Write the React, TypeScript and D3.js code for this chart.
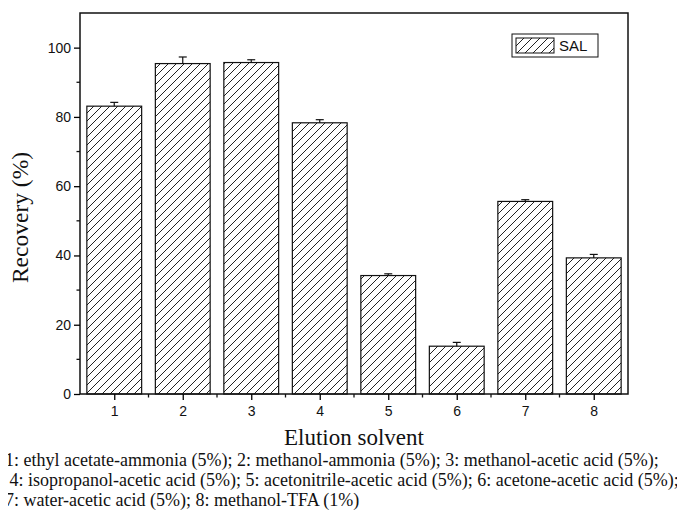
import React, { useEffect, useRef } from 'react';
import * as d3 from 'd3';

const solvents = [1, 2, 3, 4, 5, 6, 7, 8];
const recovery = [83.1, 95.4, 95.7, 78.3, 34.2, 13.8, 55.6, 39.3];
const errors = [1.1, 1.9, 0.8, 0.9, 0.5, 1.1, 0.5, 1.0];
const yTicks = [0, 20, 40, 60, 80, 100];
const yMinorTicks = [10, 30, 50, 70, 90];
const xMinorTicks = [1.5, 2.5, 3.5, 4.5, 5.5, 6.5, 7.5];
const captionLines = [
  '1: ethyl acetate-ammonia (5%); 2: methanol-ammonia (5%); 3: methanol-acetic acid (5%);',
  '\u00a04: isopropanol-acetic acid (5%); 5: acetonitrile-acetic acid (5%); 6: acetone-acetic acid (5%);',
  '7: water-acetic acid (5%); 8: methanol-TFA (1%)',
];

function App() {
  const ref = useRef<SVGSVGElement>(null);

  useEffect(() => {
    if (!ref.current) return;
    const width = 685;
    const height = 515;
    const margin = { top: 13, right: 57, bottom: 121, left: 80 };
    const svg = d3.select(ref.current).attr('width', width).attr('height', height);
    svg.selectAll('*').remove();

    const x = d3.scaleLinear().domain([0.5, 8.5]).range([margin.left, width - margin.right]);
    const y = d3.scaleLinear().domain([0, 110]).range([height - margin.bottom, margin.top]);

    const defs = svg.append('defs');
    const pat = defs.append('pattern')
      .attr('id', 'hatch')
      .attr('patternUnits', 'userSpaceOnUse')
      .attr('width', 8)
      .attr('height', 8);
    pat.append('path')
      .attr('d', 'M-2,2 l4,-4 M0,8 l8,-8 M6,10 l4,-4')
      .attr('stroke', '#222')
      .attr('stroke-width', 1);

    const sans = 'Arial, "Liberation Sans", sans-serif';
    const serif = '"Liberation Serif", "Times New Roman", serif';

    // Bars
    const bw = x(1.4) - x(0.6);
    const data = solvents.map((s, i) => ({ s, v: recovery[i], e: errors[i] }));
    svg.append('g').selectAll('rect')
      .data(data)
      .join('rect')
      .attr('x', d => x(d.s) - bw / 2)
      .attr('y', d => y(d.v))
      .attr('width', bw)
      .attr('height', d => y(0) - y(d.v))
      .attr('fill', 'url(#hatch)')
      .attr('stroke', '#111')
      .attr('stroke-width', 1.2);

    // Error bars (upper only)
    const eb = svg.append('g').attr('stroke', '#111').attr('stroke-width', 1.2);
    data.forEach(d => {
      eb.append('line').attr('x1', x(d.s)).attr('x2', x(d.s)).attr('y1', y(d.v)).attr('y2', y(d.v + d.e));
      eb.append('line').attr('x1', x(d.s) - 4).attr('x2', x(d.s) + 4).attr('y1', y(d.v + d.e)).attr('y2', y(d.v + d.e));
    });

    // Frame
    svg.append('rect')
      .attr('x', margin.left)
      .attr('y', margin.top)
      .attr('width', width - margin.right - margin.left)
      .attr('height', y(0) - margin.top)
      .attr('fill', 'none')
      .attr('stroke', '#111')
      .attr('stroke-width', 1.5);

    // Y axis
    const yAxis = svg.append('g')
      .attr('transform', `translate(${margin.left},0)`)
      .call(d3.axisLeft(y).tickValues(yTicks).tickSize(6).tickPadding(3).tickSizeOuter(0));
    yAxis.select('.domain').remove();
    yAxis.selectAll('line').attr('stroke-width', 1.3);
    yAxis.selectAll('text').attr('font-family', sans).attr('font-size', 14).attr('fill', '#111');
    svg.append('g').selectAll('line')
      .data(yMinorTicks)
      .join('line')
      .attr('x1', margin.left - 3.5).attr('x2', margin.left)
      .attr('y1', d => y(d)).attr('y2', d => y(d))
      .attr('stroke', '#111').attr('stroke-width', 1.3);

    // X axis
    const xAxis = svg.append('g')
      .attr('transform', `translate(0,${y(0)})`)
      .call(d3.axisBottom(x).tickValues(solvents).tickFormat(d3.format('d')).tickSize(6).tickPadding(6).tickSizeOuter(0));
    xAxis.select('.domain').remove();
    xAxis.selectAll('line').attr('stroke-width', 1.3);
    xAxis.selectAll('text').attr('font-family', sans).attr('font-size', 14).attr('fill', '#111');
    svg.append('g').selectAll('line')
      .data(xMinorTicks)
      .join('line')
      .attr('x1', d => x(d)).attr('x2', d => x(d))
      .attr('y1', y(0)).attr('y2', y(0) + 3.5)
      .attr('stroke', '#111').attr('stroke-width', 1.3);

    // Axis titles
    svg.append('text')
      .attr('transform', `translate(28,${(margin.top + y(0)) / 2 + 14}) rotate(-90)`)
      .attr('text-anchor', 'middle')
      .style('font-family', serif)
      .style('font-size', '23.5px')
      .attr('fill', '#111')
      .text('Recovery (%)');
    svg.append('text')
      .attr('x', (margin.left + width - margin.right) / 2)
      .attr('y', 445)
      .attr('text-anchor', 'middle')
      .style('font-family', serif)
      .style('font-size', '23px')
      .attr('fill', '#111')
      .text('Elution solvent');

    // Legend
    const lg = svg.append('g').attr('transform', 'translate(512,34)');
    lg.append('rect').attr('width', 86).attr('height', 23).attr('fill', 'white').attr('stroke', '#111').attr('stroke-width', 1);
    lg.append('rect').attr('x', 4).attr('y', 4).attr('width', 38).attr('height', 15)
      .attr('fill', 'url(#hatch)').attr('stroke', '#111').attr('stroke-width', 1);
    lg.append('text').attr('x', 47).attr('y', 17).attr('font-family', sans).attr('font-size', 15).attr('fill', '#111').text('SAL');

    // Caption
    svg.append('g').selectAll('text')
      .data(captionLines)
      .join('text')
      .attr('x', 5)
      .attr('y', (d, i) => 466 + i * 20)
      .style('font-family', '"Liberation Serif"')
      .style('font-size', '18px')
      .attr('fill', '#111')
      .text(d => d);
  }, []);

  return (
    <div style={{ margin: -8 }}>
      <svg ref={ref}></svg>
    </div>
  );
}

export default App;
